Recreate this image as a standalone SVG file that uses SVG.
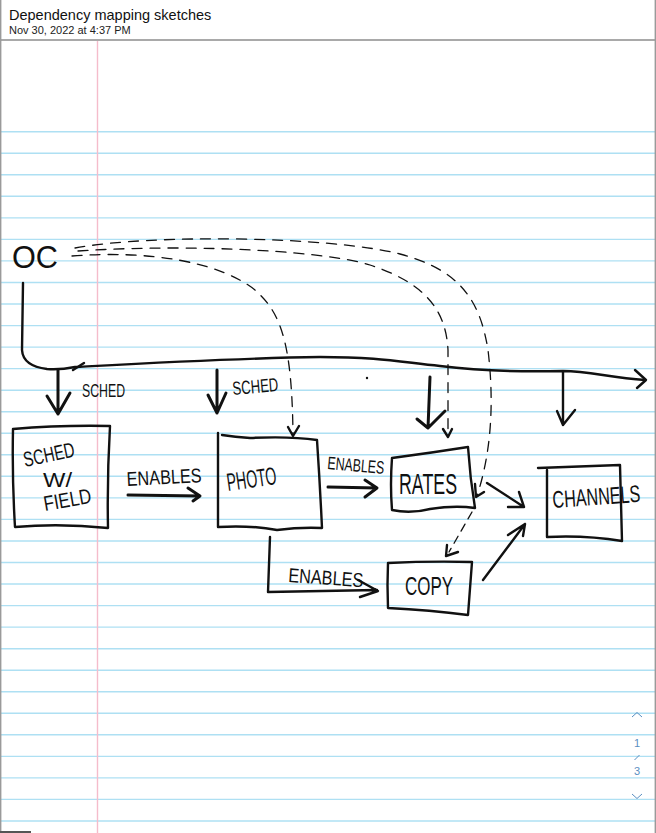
<svg xmlns="http://www.w3.org/2000/svg" width="656" height="833" viewBox="0 0 656 833">
<defs>
<style>
.rule{stroke:#aee0f3;stroke-width:1.4}
.ink{fill:none;stroke:#111;stroke-width:2.4;stroke-linecap:round;stroke-linejoin:round}
.thick{stroke-width:3}
.dash{fill:none;stroke:#111;stroke-width:1.3;stroke-dasharray:10 8;stroke-linecap:round}
.hand{font-family:"Liberation Sans","DejaVu Sans",sans-serif;fill:#111}
.nav{font-family:"Liberation Sans",sans-serif;font-size:11px;fill:#5a8fc2;text-anchor:middle}
</style>
</defs>
<rect width="656" height="833" fill="#fff"/>
<!-- header -->
<text x="9" y="20" font-family="Liberation Sans,Arial,sans-serif" font-size="14.5" fill="#111">Dependency mapping sketches</text>
<text x="9" y="34" font-family="Liberation Sans,Arial,sans-serif" font-size="11" fill="#222">Nov 30, 2022 at 4:37 PM</text>
<line x1="0" y1="40" x2="656" y2="40" stroke="#8c8c8c" stroke-width="1.5"/>
<!-- paper rules -->
<g id="paper">
<line class="rule" x1="0" y1="131.7" x2="656" y2="131.7"/>
<line class="rule" x1="0" y1="153.2" x2="656" y2="153.2"/>
<line class="rule" x1="0" y1="174.8" x2="656" y2="174.8"/>
<line class="rule" x1="0" y1="196.3" x2="656" y2="196.3"/>
<line class="rule" x1="0" y1="217.9" x2="656" y2="217.9"/>
<line class="rule" x1="0" y1="239.4" x2="656" y2="239.4"/>
<line class="rule" x1="0" y1="260.9" x2="656" y2="260.9"/>
<line class="rule" x1="0" y1="282.5" x2="656" y2="282.5"/>
<line class="rule" x1="0" y1="304.0" x2="656" y2="304.0"/>
<line class="rule" x1="0" y1="325.6" x2="656" y2="325.6"/>
<line class="rule" x1="0" y1="347.1" x2="656" y2="347.1"/>
<line class="rule" x1="0" y1="368.6" x2="656" y2="368.6"/>
<line class="rule" x1="0" y1="390.2" x2="656" y2="390.2"/>
<line class="rule" x1="0" y1="411.7" x2="656" y2="411.7"/>
<line class="rule" x1="0" y1="433.3" x2="656" y2="433.3"/>
<line class="rule" x1="0" y1="454.8" x2="656" y2="454.8"/>
<line class="rule" x1="0" y1="476.3" x2="656" y2="476.3"/>
<line class="rule" x1="0" y1="497.9" x2="656" y2="497.9"/>
<line class="rule" x1="0" y1="519.4" x2="656" y2="519.4"/>
<line class="rule" x1="0" y1="541.0" x2="656" y2="541.0"/>
<line class="rule" x1="0" y1="562.5" x2="656" y2="562.5"/>
<line class="rule" x1="0" y1="584.0" x2="656" y2="584.0"/>
<line class="rule" x1="0" y1="605.6" x2="656" y2="605.6"/>
<line class="rule" x1="0" y1="627.1" x2="656" y2="627.1"/>
<line class="rule" x1="0" y1="648.7" x2="656" y2="648.7"/>
<line class="rule" x1="0" y1="670.2" x2="656" y2="670.2"/>
<line class="rule" x1="0" y1="691.7" x2="656" y2="691.7"/>
<line class="rule" x1="0" y1="713.3" x2="656" y2="713.3"/>
<line class="rule" x1="0" y1="734.8" x2="656" y2="734.8"/>
<line class="rule" x1="0" y1="756.4" x2="656" y2="756.4"/>
<line class="rule" x1="0" y1="777.9" x2="656" y2="777.9"/>
<line class="rule" x1="0" y1="799.4" x2="656" y2="799.4"/>
<line class="rule" x1="0" y1="821.0" x2="656" y2="821.0"/>
<line x1="97.5" y1="41" x2="97.5" y2="833" stroke="#f5bccb" stroke-width="1.4"/>
<line x1="0.7" y1="0" x2="0.7" y2="833" stroke="#9a9a9a" stroke-width="1.4"/>
<line x1="655.3" y1="0" x2="655.3" y2="833" stroke="#9a9a9a" stroke-width="1.4"/>
<line x1="0" y1="832" x2="31" y2="832" stroke="#555" stroke-width="2"/>
</g>
<!-- page navigation -->
<g id="nav">
<path d="M632,717 L637,712.5 L642,717" fill="none" stroke="#5a8fc2" stroke-width="1"/>
<text class="nav" x="637" y="747">1</text>
<path d="M634.5,760 L639.5,755" stroke="#5a8fc2" stroke-width="1"/>
<text class="nav" x="637" y="775">3</text>
<path d="M632,794 L637,798.5 L642,794" fill="none" stroke="#5a8fc2" stroke-width="1"/>
</g>
<!-- nodes -->
<g id="oc">
<text class="hand" x="12" y="268" font-size="31" textLength="46" lengthAdjust="spacingAndGlyphs">OC</text>
</g>
<g id="sched-field">
<path class="ink" d="M13,429 Q60,425 110,426 Q107,478 108,528 Q60,523 15,527 Q12,478 13,429"/>
<text class="hand" x="25" y="467" font-size="21" textLength="52" lengthAdjust="spacingAndGlyphs" transform="rotate(-12 25 467)">SCHED</text>
<text class="hand" x="43" y="487" font-size="20" textLength="29" lengthAdjust="spacingAndGlyphs">W/</text>
<text class="hand" x="45" y="511" font-size="21" textLength="48" lengthAdjust="spacingAndGlyphs" transform="rotate(-10 45 511)">FIELD</text>
</g>
<g id="photo">
<path class="ink" d="M218,433 L218,527 Q250,525 277,530 Q300,527 322,528 Q320,485 317,440 Q290,436 250,438 Q235,437 222,435"/>
<text class="hand" x="228" y="491" font-size="25" textLength="50" lengthAdjust="spacingAndGlyphs" transform="rotate(-8 228 491)">PHOTO</text>
</g>
<g id="rates">
<path class="ink" d="M392,458 Q430,453 468,447 Q470,478 475,508 Q455,505 430,509 Q410,514 392,510 Q390,485 392,458"/>
<text class="hand" x="399" y="494" font-size="29" textLength="58" lengthAdjust="spacingAndGlyphs">RATES</text>
</g>
<g id="channels">
<path class="ink" d="M538,468 L620,465 M547,470 L547,537 Q585,535 622,541 L620,465"/>
<text class="hand" x="553" y="508" font-size="24" textLength="88" lengthAdjust="spacingAndGlyphs" transform="rotate(-4 553 508)">CHANNELS</text>
</g>
<g id="copy">
<path class="ink" d="M388,563 Q430,561 472,562 L468,615 Q430,610 388,608 Q387,585 388,563"/>
<text class="hand" x="405" y="595" font-size="25" textLength="48" lengthAdjust="spacingAndGlyphs">COPY</text>
</g>
<!-- connectors -->
<g id="connectors">
<!-- main OC bus -->
<path class="ink" d="M23,283 L22,350 Q23,366 47,369 Q60,370 75,367 C150,363 240,358 320,357 C380,357 400,362 440,366 C480,371 520,372 563,371 C590,371 610,378 645,380"/>
<path class="ink" d="M635,370 L646,380 L637,388"/>
<path class="ink" d="M73,370 L84,363" stroke-width="1.3"/>
<circle cx="367" cy="378" r="1.2" fill="#111"/>
<!-- down arrows -->
<path class="ink thick" d="M58,370 L58,414 M47,396 L58,414 L70,393"/>
<text class="hand" x="82" y="397" font-size="19" textLength="43" lengthAdjust="spacingAndGlyphs">SCHED</text>
<path class="ink thick" d="M217,370 L217,413 M208,395 L217,413 L226,393"/>
<text class="hand" x="233" y="395" font-size="19" textLength="46" lengthAdjust="spacingAndGlyphs" transform="rotate(-5 233 395)">SCHED</text>
<path class="ink thick" d="M430,377 L428,428 M417,419 L428,428 L445,411"/>
<path class="ink" d="M563,372 L563,425 M557,411 L563,425 L575,410"/>
<!-- dashed OC dependencies -->
<path class="dash" d="M72,256 C150,250 220,262 255,290 C280,312 292,340 293,435"/>
<path class="ink" d="M288,427 L293,436 L299,426" stroke-width="1.3"/>
<path class="dash" d="M78,251 C200,243 330,252 370,265 C425,283 446,310 448,350 L448,436"/>
<path class="ink" d="M443,429 L448,437 L452,429" stroke-width="1.3"/>
<path class="dash" d="M75,248 C150,234 330,236 400,254 C460,270 480,300 488,350 C494,400 492,450 477,496"/>
<path class="ink" d="M475,484 L476,497 L484,492" stroke-width="1.3"/>
<path class="dash" d="M472,512 L449,552" stroke-width="2.2" style="stroke-dasharray:8 6"/>
<path class="ink" d="M447,545 L446,556 L458,552" stroke-width="2.2"/>
<!-- enables arrows -->
<text class="hand" x="127" y="486" font-size="20" textLength="75" lengthAdjust="spacingAndGlyphs" transform="rotate(-3 127 486)">ENABLES</text>
<path class="ink thick" d="M128,495 L200,496 M188,488 L200,496 L193,501"/>
<text class="hand" x="327" y="469" font-size="18" textLength="57" lengthAdjust="spacingAndGlyphs" transform="rotate(5 327 469)">ENABLES</text>
<path class="ink thick" d="M328,487 L377,488 M365,480 L377,488 L365,497"/>
<path class="ink" d="M270,537 L268,592 L377,590 M358,580 L378,591 L360,597"/>
<text class="hand" x="288" y="582" font-size="20" textLength="75" lengthAdjust="spacingAndGlyphs" transform="rotate(4 288 582)">ENABLES</text>
<path class="ink" d="M487,483 L524,507 M508,507 L524,507 L519,492"/>
<path class="ink" d="M483,580 L525,524 M508,535 L525,524 L523,536"/>
</g>
</svg>
